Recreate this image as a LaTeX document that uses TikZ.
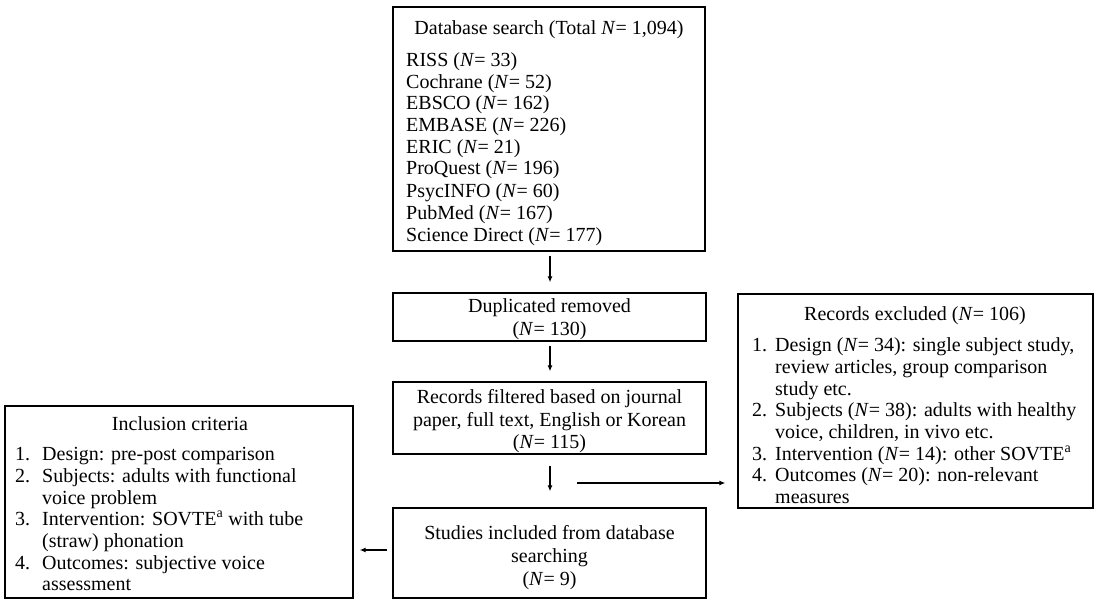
\documentclass[tikz,border=0pt]{standalone}
\usepackage{fontspec}
\setmainfont{Liberation Serif}
\usetikzlibrary{arrows.meta}
\begin{document}
\begin{tikzpicture}[x=1pt,y=-1pt,
  box/.style={draw,line width=1.3pt,inner sep=0pt,minimum width=#1},
  txt/.style={inner sep=0pt,text height=14pt,text depth=4pt,font=\fontsize{20}{22}\selectfont},
  lt/.style={txt,anchor=west},
  arr/.style={line width=1.6pt,-{Latex[length=6pt,width=5pt]}}]
\useasboundingbox (0,0) rectangle (1100,604);
% boxes
\node[box=312pt,minimum height=244pt] (db) at (549,129) {};
\node[box=313pt,minimum height=48pt] (dup) at (549.5,317) {};
\node[box=313pt,minimum height=72pt] (filt) at (549.5,418) {};
\node[box=313pt,minimum height=90pt] (stud) at (549.5,553) {};
\node[box=355pt,minimum height=214pt] (excl) at (915.5,401) {};
\node[box=348pt,minimum height=192pt] (incl) at (179,502) {};
% database text
\node[txt] (dbt) at (549,30) {Database search (Total \textit{N}= 1,094)};
\node[lt] (d1) at (406,62) {RISS (\textit{N}= 33)};
\node[lt] (d2) at (406,84) {Cochrane (\textit{N}= 52)};
\node[lt] (d3) at (406,105) {EBSCO (\textit{N}= 162)};
\node[lt] (d4) at (406,127) {EMBASE (\textit{N}= 226)};
\node[lt] (d5) at (406,149) {ERIC (\textit{N}= 21)};
\node[lt] (d6) at (406,170) {ProQuest (\textit{N}= 196)};
\node[lt] (d7) at (406,192) {PsycINFO (\textit{N}= 60)};
\node[lt] (d8) at (406,214) {PubMed (\textit{N}= 167)};
\node[lt] (d9) at (406,236) {Science Direct (\textit{N}= 177)};
% duplicated
\node[txt] (du1) at (549.5,307) {Duplicated removed};
\node[txt] (du2) at (549.5,330) {(\textit{N}= 130)};
% filtered
\node[txt] (f1) at (549.5,398) {Records filtered based on journal};
\node[txt] (f2) at (549.5,421) {paper, full text, English or Korean};
\node[txt] (f3) at (549.5,443) {(\textit{N}= 115)};
% studies
\node[txt] (s1) at (549.5,534) {Studies included from database};
\node[txt] (s2) at (549.5,557) {searching};
\node[txt] (s3) at (549.5,580) {(\textit{N}= 9)};
% excluded
\node[txt] (et) at (915,315) {Records excluded (\textit{N}= 106)};
\node[lt] (e1) at (752,346) {\makebox[23pt][l]{1.}Design (\textit{N}= 34): single subject study,};
\node[lt] (e2) at (775,368) {review articles, group comparison};
\node[lt] (e3) at (775,390) {study etc.};
\node[lt] (e4) at (752,411) {\makebox[23pt][l]{2.}Subjects (\textit{N}= 38): adults with healthy};
\node[lt] (e5) at (775,433) {voice, children, in vivo etc.};
\node[lt] (e6) at (752,455) {\makebox[23pt][l]{3.}Intervention (\textit{N}= 14): other SOVTE\textsuperscript{a}};
\node[lt] (e7) at (752,476) {\makebox[23pt][l]{4.}Outcomes (\textit{N}= 20): non-relevant};
\node[lt] (e8) at (775,498) {measures};
% inclusion
\node[txt] (it) at (180,425) {Inclusion criteria};
\node[lt] (i1) at (15,455) {\makebox[27pt][l]{1.}Design: pre-post comparison};
\node[lt] (i2) at (15,477) {\makebox[27pt][l]{2.}Subjects: adults with functional};
\node[lt] (i3) at (42,499) {voice problem};
\node[lt] (i4) at (15,520) {\makebox[27pt][l]{3.}Intervention: SOVTE\textsuperscript{a} with tube};
\node[lt] (i5) at (42,542) {(straw) phonation};
\node[lt] (i6) at (15,564) {\makebox[27pt][l]{4.}Outcomes: subjective voice};
\node[lt] (i7) at (42,585) {assessment};
% connectors
\draw[arr,shorten <=4pt,shorten >=10pt] (db.south -| 550,0) -- (dup.north -| 550,0);
\draw[arr,shorten <=4pt,shorten >=10pt] (dup.south -| 550,0) -- (filt.north -| 550,0);
\draw[arr,shorten <=11pt,shorten >=16pt] (filt.south -| 550,0) -- (stud.north -| 550,0);
\coordinate (hs) at (577,483);
\draw[arr,line width=2pt,shorten >=12pt] (hs) -- (hs -| excl.west);
\draw[arr,shorten <=5pt,shorten >=6pt] (stud.west |- 0,550) -- (incl.east |- 0,550);
\end{tikzpicture}
\end{document}
